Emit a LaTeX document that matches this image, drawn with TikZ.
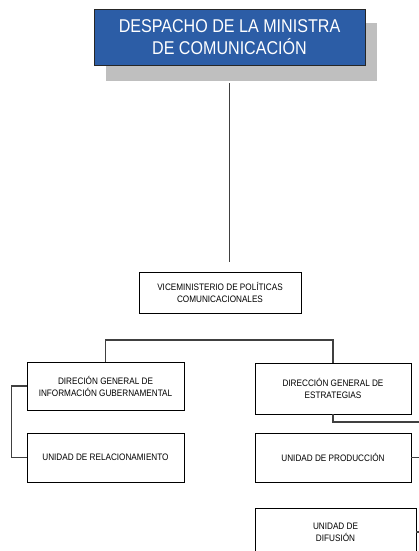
\documentclass[tikz,border=0pt]{standalone}
\usepackage{fontspec}
\setmainfont{Liberation Sans}[FakeStretch=0.87]
\definecolor{headblue}{RGB}{44,93,166}
\definecolor{shadowgray}{RGB}{191,191,191}
\definecolor{linegray}{RGB}{64,64,64}
\begin{document}
\begin{tikzpicture}[x=1pt,y=1pt,
  box/.style={draw=black, line width=0.8pt, fill=white, align=center, inner sep=0pt,
    font=\fontsize{9.4}{12}\selectfont},
  headbox/.style={draw=black!85, line width=0.9pt, fill=headblue, text=white, align=center,
    inner sep=0pt, minimum width=271, minimum height=56, font=\fontsize{18.5}{22}\selectfont},
  conn/.style={draw=linegray, line width=1.1pt}]
\useasboundingbox (0,0) rectangle (419,-551);
\fill[shadowgray] (106,-23) rectangle (377,-81);
\node[headbox] (despacho) at (229.5,-37) {DESPACHO DE LA MINISTRA\\DE COMUNICACIÓN};
\node[box, minimum width=162, minimum height=41] (vice) at (220,-292.5) {VICEMINISTERIO DE POLÍTICAS\\COMUNICACIONALES};
\node[box, minimum width=157, minimum height=48] (dgi) at (105.5,-386) {DIRECIÓN GENERAL DE\\INFORMACIÓN GUBERNAMENTAL};
\node[box, minimum width=157, minimum height=49] (ur) at (105.5,-457.5) {UNIDAD DE RELACIONAMIENTO};
\node[box, minimum width=156, minimum height=51] (dge) at (333,-388.5) {DIRECCIÓN GENERAL DE\\ESTRATEGIAS};
\node[box, minimum width=156, minimum height=49] (up) at (333,-457.5) {UNIDAD DE PRODUCCIÓN};
\node[box, minimum width=161, minimum height=48] (ud) at (335.5,-532) {UNIDAD DE\\DIFUSIÓN};
\coordinate (bus) at (0,-340);
\coordinate (rtop) at (430,-422);
\draw[conn, shorten <=18pt, shorten >=10pt] (despacho.south) -- (despacho.south |- vice.north);
\draw[conn] (dgi.north) |- (dge.north |- bus) -- (dge.north);
\draw[conn] (dgi.west) -- ++(-15,0) |- (ur.west);
\draw[conn] (dge.south) |- (rtop);
\draw[conn] (up.east) -- ++(15,0);
\draw[conn] (ud.east) -- ++(15,0);
\end{tikzpicture}
\end{document}
